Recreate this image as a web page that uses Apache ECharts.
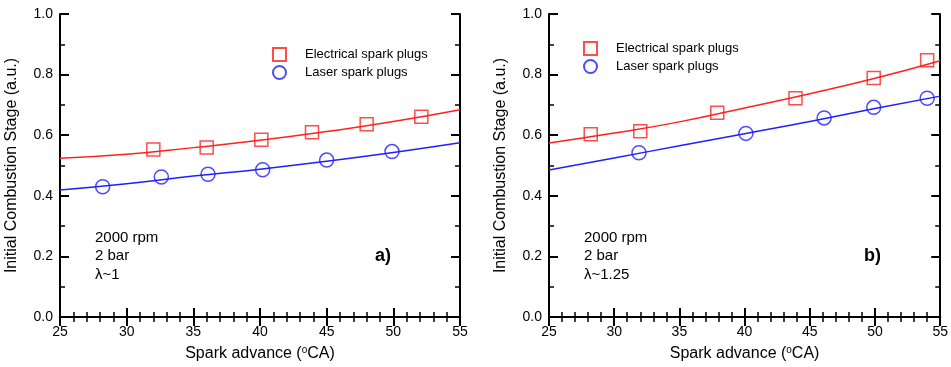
<!DOCTYPE html>
<html>
<head>
<meta charset="utf-8">
<script src="https://cdn.jsdelivr.net/npm/echarts@6/dist/echarts.min.js"></script>
<style>
  html, body { margin: 0; padding: 0; background: #fff; }
  #chart { width: 951px; height: 367px; }
</style>
</head>
<body>
<div id="chart"></div>
<script>
// measured points, panel a) lambda~1
const elecA = [[32.0, 0.553], [36.0, 0.559], [40.1, 0.585], [43.9, 0.610], [48.0, 0.636], [52.1, 0.661]];
const laserA = [[28.2, 0.430], [32.6, 0.462], [36.1, 0.471], [40.2, 0.486], [45.0, 0.518], [49.9, 0.546]];
// fit curves read off panel a)
const elecFitA = [[25, 0.524], [30, 0.537], [35, 0.559], [40, 0.583], [45, 0.612], [50, 0.645], [55, 0.684]];
const laserFitA = [[25, 0.419], [30, 0.440], [35, 0.465], [40, 0.488], [45, 0.514], [50, 0.543], [55, 0.575]];

// panel b) lambda~1.25
const elecB = [[28.2, 0.603], [32.0, 0.613], [37.9, 0.674], [43.9, 0.722], [49.9, 0.789], [54.0, 0.847]];
const laserB = [[31.9, 0.542], [40.1, 0.606], [46.1, 0.657], [49.9, 0.692], [54.0, 0.722]];
const elecFitB = [[25, 0.574], [30, 0.607], [35, 0.644], [40, 0.690], [45, 0.737], [50, 0.788], [55, 0.846]];
const laserFitB = [[25, 0.485], [30, 0.525], [35, 0.565], [40, 0.605], [45, 0.645], [50, 0.688], [55, 0.729]];

const notesA = ['2000 rpm', '2 bar', 'λ~1'];
const notesB = ['2000 rpm', '2 bar', 'λ~1.25'];

const RED = '#ff2020';
const BLUE = '#1f1fff';
const FONT = 'Liberation Sans';

const grids = [
  { left: 60, top: 14, width: 400, height: 306 },
  { left: 549, top: 14, width: 400, height: 306 },
];

const tickStyle = { show: true, inside: true, length: 9, lineStyle: { color: '#000', width: 2 } };
const minorStyle = { show: true, length: 5, lineStyle: { color: '#000', width: 1.5 } };
const lineStyle = { show: true, lineStyle: { color: '#000', width: 2 } };

const xAxes = [];
const yAxes = [];
grids.forEach((g, i) => {
  xAxes.push({
    gridIndex: i, type: 'value', min: 25, max: 55, interval: 5, position: 'bottom',
    axisLine: lineStyle, axisTick: tickStyle, minorTick: Object.assign({ splitNumber: 5 }, minorStyle),
    splitLine: { show: false },
    axisLabel: { color: '#000', fontFamily: FONT, fontSize: 14, margin: 8 },
    name: 'Spark advance ({sup|o}CA)', nameLocation: 'middle', nameGap: 28,
    nameTextStyle: {
      color: '#000', fontFamily: FONT, fontSize: 16,
      rich: { sup: { fontSize: 10, verticalAlign: 'top', padding: [0, 0, 8, 0], fontFamily: FONT, color: '#000' } },
    },
  });
  xAxes.push({
    gridIndex: i, type: 'value', min: 25, max: 55, interval: 5, position: 'top',
    axisLine: lineStyle, axisTick: tickStyle, minorTick: Object.assign({ splitNumber: 5 }, minorStyle),
    splitLine: { show: false }, axisLabel: { show: false },
  });
  yAxes.push({
    gridIndex: i, type: 'value', min: 0, max: 1, interval: 0.2, position: 'left',
    axisLine: lineStyle, axisTick: tickStyle, minorTick: Object.assign({ splitNumber: 2 }, minorStyle),
    splitLine: { show: false },
    axisLabel: { color: '#000', fontFamily: FONT, fontSize: 14, margin: 7, formatter: (v) => v.toFixed(1) },
    name: 'Initial Combustion Stage (a.u.)', nameLocation: 'middle', nameGap: 40,
    nameTextStyle: { color: '#000', fontFamily: FONT, fontSize: 16 },
  });
  yAxes.push({
    gridIndex: i, type: 'value', min: 0, max: 1, interval: 0.2, position: 'right',
    axisLine: lineStyle, axisTick: tickStyle, minorTick: Object.assign({ splitNumber: 2 }, minorStyle),
    splitLine: { show: false }, axisLabel: { show: false },
  });
});

const fitLine = (data, color, gi) => ({
  type: 'line', data, smooth: true, showSymbol: false, silent: true,
  xAxisIndex: gi * 2, yAxisIndex: gi * 2,
  lineStyle: { color, width: 1.5 }, z: 2,
});
const points = (name, data, symbol, color, gi) => ({
  name, type: 'scatter', data, symbol, symbolSize: symbol === 'rect' ? 13 : 14,
  xAxisIndex: gi * 2, yAxisIndex: gi * 2,
  itemStyle: { color: 'rgba(255,255,255,0)', borderColor: color, borderWidth: 1.5 }, z: 3,
});

const noteText = (notes, left) => notes.map((t, k) => ({
  type: 'text', left, top: 230 + k * 18.5,
  style: { text: t, fill: '#000', font: `15px "${FONT}"` },
}));

const legendBase = {
  orient: 'vertical', itemWidth: 13, itemHeight: 13, itemGap: 3,
  textStyle: { color: '#000', fontFamily: FONT, fontSize: 13, padding: [0, 0, 0, 14] },
  data: ['Electrical spark plugs', 'Laser spark plugs'],
};

const chart = echarts.init(document.getElementById('chart'));
chart.setOption({
  animation: false,
  backgroundColor: '#fff',
  grid: grids,
  xAxis: xAxes,
  yAxis: yAxes,
  legend: [
    Object.assign({ left: 267, top: 42 }, legendBase),
    Object.assign({ left: 578, top: 36 }, legendBase),
  ],
  series: [
    fitLine(elecFitA, RED, 0),
    fitLine(laserFitA, BLUE, 0),
    points('Electrical spark plugs', elecA, 'rect', RED, 0),
    points('Laser spark plugs', laserA, 'circle', BLUE, 0),
    fitLine(elecFitB, RED, 1),
    fitLine(laserFitB, BLUE, 1),
    points('Electrical spark plugs', elecB, 'rect', RED, 1),
    points('Laser spark plugs', laserB, 'circle', BLUE, 1),
  ],
  graphic: [
    ...noteText(notesA, 95),
    ...noteText(notesB, 584),
    { type: 'text', left: 375, top: 247, style: { text: 'a)', fill: '#000', font: `bold 18px "${FONT}"` } },
    { type: 'text', left: 864, top: 247, style: { text: 'b)', fill: '#000', font: `bold 18px "${FONT}"` } },
  ],
});
</script>
</body>
</html>
